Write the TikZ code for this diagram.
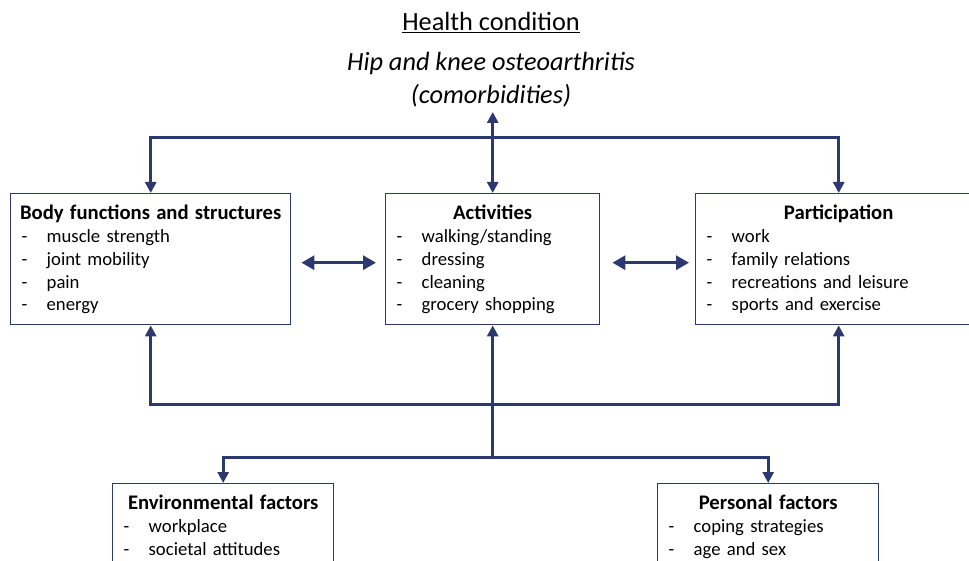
\documentclass[tikz,border=0pt]{standalone}
\usepackage{fontspec}
\setmainfont{Carlito}
\usetikzlibrary{arrows.meta}
\usetikzlibrary{calc}
\definecolor{icfblue}{RGB}{44,56,112}
\tikzset{basic box/.style={draw=icfblue,
                           line width=1.4pt,
                           rectangle,
                           anchor=north west,
                           inner xsep=11pt,
                           inner ysep=6pt,
                           align=left,
                           text height=20pt,
                           text depth=99pt,
                           font=\fontsize{18.7}{22.8}\selectfont}}
\tikzset{link/.style={draw=icfblue,
                      line width=3pt,
                      >={Triangle[length=11pt,width=11pt]}}}
\tikzset{wide link/.style={link,
                           >={Triangle[length=13pt,width=14pt]}}}
\newcommand{\TITLE}[1]{\centerline{\fontsize{20.7}{22.8}\selectfont\bfseries #1}}
\newcommand{\ITEM}[1]{\makebox[25pt][l]{-}#1}

\begin{document}
\begin{tikzpicture}
      [
      x=1pt,y=-1pt,
      head/.style={font=\fontsize{26.3}{32}\selectfont,anchor=base},
      ]
      \useasboundingbox (0,0) rectangle (969,561);

      % health condition
      \node [head] (hc) at (491,31) {\underline{Health condition}};
      \node [head] (hip) at (491,71) {\itshape Hip and knee osteoarthritis};
      \node [head] (com) at (491,104) {\itshape (comorbidities)};

      % boxes
      \node [basic box,text width=258pt] (body) at (10,193)
      {\TITLE{Body functions and structures}
      \ITEM{muscle strength}\\
      \ITEM{joint mobility}\\
      \ITEM{pain}\\
      \ITEM{energy}};

      \node [basic box,text width=192pt] (act) at (385,193)
      {\TITLE{Activities}
      \ITEM{walking/standing}\\
      \ITEM{dressing}\\
      \ITEM{cleaning}\\
      \ITEM{grocery shopping}};

      \node [basic box,text width=264pt] (part) at (695,193)
      {\TITLE{Participation}
      \ITEM{work}\\
      \ITEM{family relations}\\
      \ITEM{recreations and leisure}\\
      \ITEM{sports and exercise}};

      \node [basic box,text width=199pt,text depth=130pt] (env) at (112,483)
      {\TITLE{Environmental factors}
      \ITEM{workplace}\\
      \ITEM{societal attitudes}};

      \node [basic box,text width=199pt,text depth=130pt] (pers) at (657,483)
      {\TITLE{Personal factors}
      \ITEM{coping strategies}\\
      \ITEM{age and sex}};

      % joints
      \coordinate (top) at (act.north |- 0,112);
      \coordinate (tj) at (act.north |- 0,138);
      \coordinate (bj) at (act.south |- 0,404);
      \coordinate (fj) at (act.south |- 0,457);

      % edges
      \draw [link,<->] (top) -- (act.north);
      \foreach \b in {body,part}
        \draw [link,->] (tj) -| (\b.north);

      \draw [wide link,<->,shorten <=10pt,shorten >=9pt]
        ([yshift=-3.5pt]body.east) -- ([yshift=-3.5pt]act.west);
      \draw [wide link,<->,shorten <=12pt,shorten >=6pt]
        ([yshift=-3.5pt]act.east) -- ([yshift=-3.5pt]part.west);

      \draw [link] (fj) -- (bj);
      \draw [link,->] (bj) -- (act.south);
      \foreach \b in {body,part}
        \draw [link,->] (bj) -| (\b.south);
      \foreach \b in {env,pers}
        \draw [link,->] (fj) -| (\b.north);

    \end{tikzpicture}
\end{document}
